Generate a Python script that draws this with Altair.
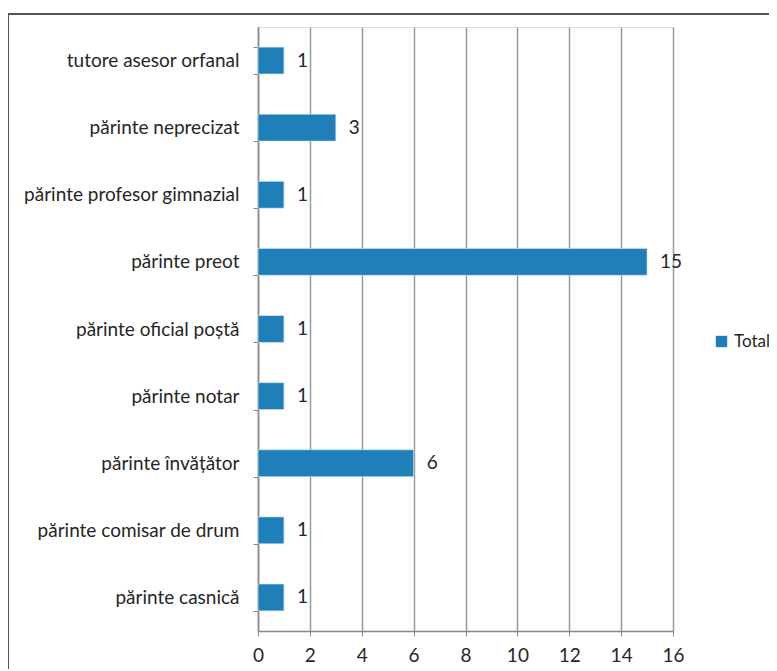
import altair as alt
import pandas as pd

categories = [
    "tutore asesor orfanal",
    "părinte neprecizat",
    "părinte profesor gimnazial",
    "părinte preot",
    "părinte oficial poștă",
    "părinte notar",
    "părinte învățător",
    "părinte comisar de drum",
    "părinte casnică",
]
values = [1, 3, 1, 15, 1, 1, 6, 1, 1]
series = ["Total"] * len(categories)
x_ticks = [0, 2, 4, 6, 8, 10, 12, 14, 16]

df = pd.DataFrame({"cat": categories, "val": values, "series": series})

FONT = "Lato"
FS = 19
BLUE = "#1f7fb8"
TXT = "#262626"
W, H = 415, 604

y_enc = alt.Y(
    "cat:N",
    sort=categories,
    title=None,
    scale=alt.Scale(paddingInner=0.6, paddingOuter=0.3),
    axis=alt.Axis(
        tickBand="extent",
        tickSize=5,
        tickColor="#888888",
        domainColor="#888888",
        domainWidth=1.5,
        labelPadding=14,
        labelFont=FONT,
        labelFontSize=FS,
        labelColor=TXT,
        labelLimit=400,
        grid=False,
    ),
)

bars = alt.Chart(df).mark_bar(color=BLUE, stroke="#d6e8f5", strokeWidth=0.6).encode(
    x=alt.X(
        "val:Q",
        title=None,
        scale=alt.Scale(domain=[0, 16], nice=False),
        axis=alt.Axis(
            values=x_ticks,
            grid=True,
            gridColor="#9a9a9a",
            gridWidth=1.5,
            tickSize=5,
            tickColor="#888888",
            domainColor="#888888",
            domainWidth=1.5,
            labelPadding=10,
            labelFlush=False,
            labelFont=FONT,
            labelFontSize=FS,
            labelColor=TXT,
        ),
    ),
    y=y_enc,
    color=alt.Color(
        "series:N",
        scale=alt.Scale(range=[BLUE]),
        legend=alt.Legend(
            title=None,
            orient="none",
            legendX=455,
            legendY=306,
            symbolType="square",
            symbolSize=130,
            symbolStrokeWidth=0,
            labelFont=FONT,
            labelFontSize=17,
            labelColor=TXT,
            labelOffset=4,
        ),
    ),
)

labels = alt.Chart(df).mark_text(
    align="left", baseline="middle", dx=13, font=FONT, fontSize=FS, color=TXT
).encode(x=alt.X("val:Q"), y=alt.Y("cat:N", sort=categories), text="val:Q")

border = alt.Chart(df).mark_rule(color="#555555", strokeWidth=1.5).encode(
    x=alt.value(-250), x2=alt.value(520), y=alt.value(-13)
)
border_left = alt.Chart(df).mark_rule(color="#555555", strokeWidth=1.5).encode(
    x=alt.value(-250), y=alt.value(-13), y2=alt.value(660)
)

chart = (
    alt.layer(bars, labels, border, border_left)
    .properties(
        width=W,
        height=H,
        autosize=alt.AutoSizeParams(type="none"),
        padding={"left": 250, "top": 19, "right": 96, "bottom": 38},
    )
    .configure_view(stroke=None)
    .configure(background="white")
)

chart.save("out.html", embed_options={"renderer": "svg", "actions": False})
